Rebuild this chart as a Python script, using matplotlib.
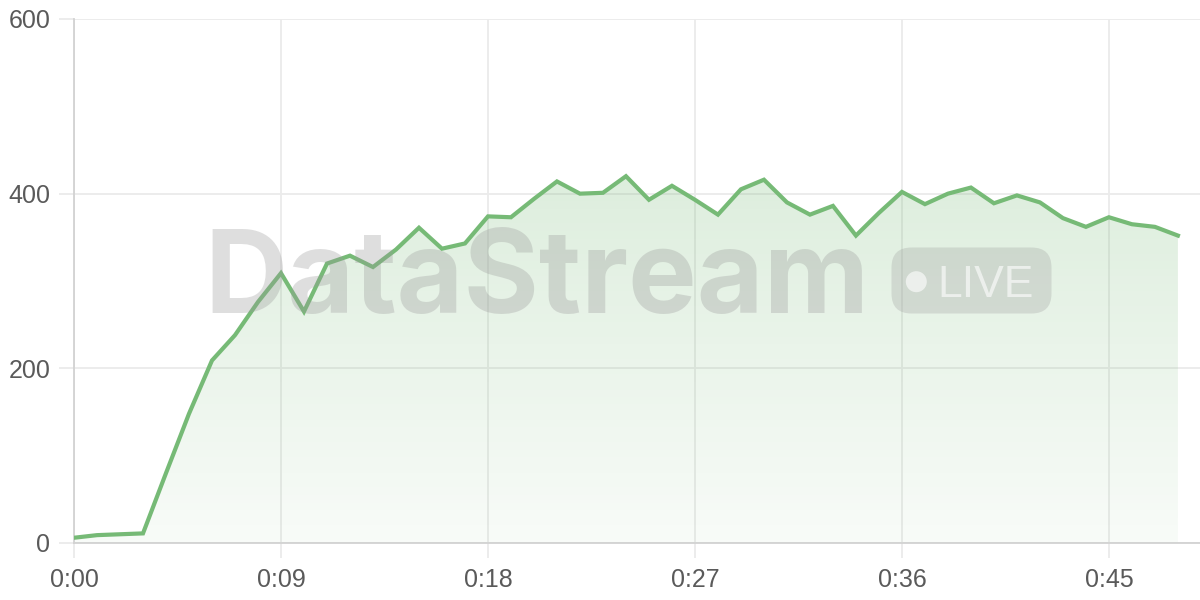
import matplotlib
matplotlib.use("Agg")
import matplotlib.pyplot as plt
import numpy as np
from matplotlib.colors import LinearSegmentedColormap
from matplotlib.patches import FancyBboxPatch, Circle

# seconds since start and the streamed value
seconds = list(range(49))
values = [6, 9, 10, 11, 80, 148, 209, 238, 276, 309, 265, 320, 329, 316, 336, 361,
          337, 343, 374, 373, 394, 414, 400, 401, 420, 393, 409, 393, 376, 405, 416,
          390, 376, 386, 352, 378, 402, 388, 400, 407, 389, 398, 390, 372, 362, 373,
          365, 362, 352]
xticks = [0, 9, 18, 27, 36, 45]
xtick_labels = ["0:00", "0:09", "0:18", "0:27", "0:36", "0:45"]
yticks = [0, 200, 400, 600]

line_col = "#76ba76"
grid_col = "#ebebeb"
text_col = "#5a5a5a"
mark_col = "#9a9a9a"

plt.rcParams['font.family'] = ['Liberation Sans', 'DejaVu Sans']

fig = plt.figure(figsize=(12, 6), dpi=100)
ax = fig.add_axes([74 / 1200, 57 / 600, 1 - 74 / 1200, (543 - 19) / 600])

x = np.array(seconds)
y = np.array(values)

# gradient fill under the line
fill = ax.fill_between(x, 0, y, color="none", lw=0)
cmap = LinearSegmentedColormap.from_list("g", [(0.45, 0.72, 0.45, 0.05), (0.45, 0.72, 0.45, 0.24)])
grad = np.linspace(0, 1, 256).reshape(-1, 1)
img = ax.imshow(grad, cmap=cmap, origin="lower", aspect="auto",
                extent=(x.min(), x.max(), 0, y.max()), zorder=1)
img.set_clip_path(fill.get_paths()[0], transform=ax.transData)

ax.plot(x, y, color=line_col, lw=3, zorder=4, solid_joinstyle="miter")

# watermark, placed in inches from the lower left corner
inch = fig.dpi_scale_trans
fig.text(2.04, 2.87, "DataStream", transform=inch, fontsize=83,
         family=["Inter", "Liberation Sans"], weight="bold", color=mark_col,
         alpha=0.32, ha="left", va="baseline", zorder=3)
pill = FancyBboxPatch((8.915, 2.865), 1.60, 0.66,
                      boxstyle="round,pad=0,rounding_size=0.2",
                      transform=inch, facecolor=mark_col, alpha=0.28,
                      edgecolor="none", zorder=3)
fig.patches.append(pill)
dot = Circle((9.163, 3.183), 0.105, transform=inch, facecolor="white",
             alpha=0.6, edgecolor="none", zorder=3)
fig.patches.append(dot)
fig.text(9.37, 3.033, "LIVE", transform=inch, fontsize=32,
         color="white", alpha=0.6, ha="left", va="baseline", zorder=3)

ax.set_xlim(0, 48.96)
ax.set_ylim(0, 600)
ax.set_xticks(xticks)
ax.set_xticklabels(xtick_labels)
ax.set_yticks(yticks)
ax.grid(True, color=grid_col, lw=1.3, zorder=0)
ax.set_axisbelow(True)
for s in ["top", "right"]:
    ax.spines[s].set_visible(False)
for s in ["left", "bottom"]:
    ax.spines[s].set_color("#d2d2d2")
    ax.spines[s].set_linewidth(1.3)
ax.tick_params(axis="both", length=11, width=1.3, color=grid_col,
               labelcolor=text_col, labelsize=18)
ax.tick_params(axis="y", pad=6)
ax.tick_params(axis="x", pad=7)

fig.savefig("out.png", dpi=100)
